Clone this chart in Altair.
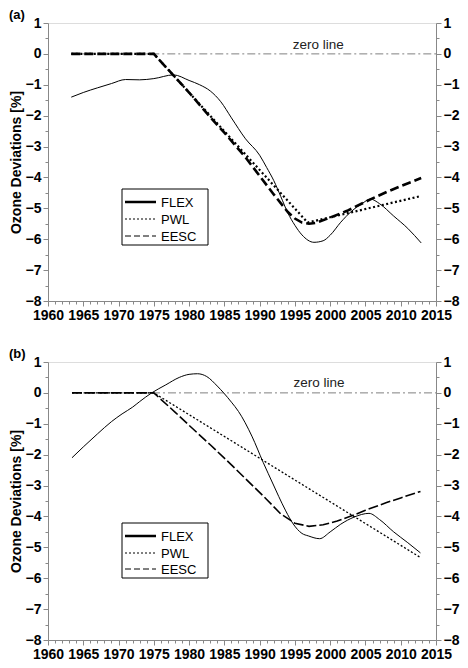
import altair as alt
import pandas as pd

FONT = "Liberation Sans"

series_names = ["FLEX", "PWL", "EESC"]

# ---------------- Panel (a) ----------------
a_flex_years = [1963.3, 1965, 1967, 1969, 1971, 1973, 1975, 1977.8, 1980, 1981.5, 1983,
                1984.5, 1986, 1988, 1990, 1991, 1992, 1993, 1994, 1995, 1996, 1997.7,
                1999, 2000, 2001.5, 2003, 2004.5, 2005.7, 2007, 2009, 2011, 2012.9]
a_flex_vals = [-1.40, -1.25, -1.10, -0.96, -0.83, -0.84, -0.80, -0.68, -0.86, -1.0, -1.2,
               -1.55, -2.07, -2.75, -3.28, -3.68, -4.1, -4.62, -5.15, -5.55, -5.86, -6.1,
               -6.05, -5.87, -5.45, -5.1, -4.85, -4.7, -4.85, -5.25, -5.65, -6.12]
a_pwl_years = [1963.3, 1975, 1996.8, 2012.9]
a_pwl_vals = [0, 0, -5.46, -4.6]
a_eesc_years = [1963.3, 1975, 1978, 1980, 1983, 1985, 1988, 1990, 1992, 1994, 1995, 1996,
                1997, 1998, 2000, 2002.4, 2005.7, 2008, 2010, 2012.9]
a_eesc_vals = [0, 0, -0.75, -1.25, -2.05, -2.55, -3.35, -3.95, -4.55, -5.12, -5.33, -5.46,
               -5.5, -5.47, -5.3, -5.08, -4.71, -4.47, -4.28, -4.02]
a_zero_years = [1963.3, 2015]

# ---------------- Panel (b) ----------------
b_flex_years = [1963.4, 1965, 1967, 1969, 1970.5, 1972, 1973, 1974.7, 1976.7, 1978.6, 1980,
                1981.2, 1982.5, 1984, 1984.9, 1986, 1987, 1988.9, 1990.5, 1991.9, 1992.7,
                1993.7, 1994.75, 1996, 1996.9, 1998.5, 2000, 2001.5, 2003.4, 2005.5, 2007,
                2009, 2011, 2012.8]
b_flex_vals = [-2.10, -1.75, -1.33, -0.93, -0.68, -0.46, -0.28, 0.0, 0.26, 0.50, 0.60,
               0.62, 0.53, 0.22, 0.0, -0.30, -0.60, -1.40, -2.25, -2.95, -3.35,
               -3.82, -4.24, -4.55, -4.63, -4.72, -4.50, -4.25, -4.02, -3.90, -4.10,
               -4.50, -4.85, -5.18]
b_pwl_years = [1963.4, 1975, 2012.8]
b_pwl_vals = [0, 0, -5.33]
b_eesc_years = [1963.4, 1975, 1978, 1980, 1983, 1986, 1989, 1991, 1993, 1995, 1997, 1999,
                2001, 2003.4, 2005, 2008, 2010, 2012.8]
b_eesc_vals = [0, 0, -0.62, -1.05, -1.68, -2.33, -3.0, -3.45, -3.92, -4.22, -4.32, -4.27,
               -4.15, -3.95, -3.80, -3.55, -3.40, -3.19]
b_zero_years = [1963.4, 2015]

zero_label = "zero line"
a_zero_label_pos = (1998.3, 0.3)
b_zero_label_pos = (1998.4, 0.32)

x_ticks = list(range(1960, 2016))
y_ticks = [-8 + 0.5 * i for i in range(19)]

W, H = 388, 278


def df(years, vals):
    return pd.DataFrame({"year": years, "value": vals})


xs = alt.Scale(domain=[1960, 2015], nice=False, zero=False)
ys = alt.Scale(domain=[-8, 1], nice=False, zero=False)

x_axis = alt.Axis(
    values=x_ticks, format="d",
    labelExpr="datum.value % 5 === 0 ? datum.label : ''",
    tickSize={"condition": {"test": "datum.value % 5 === 0", "value": 5}, "value": 3},
    labelFlush=False, labelOverlap=False, grid=False,
    labelFont=FONT, labelFontSize=14, labelFontWeight="bold", labelPadding=2,
    title=None,
)


def y_axis(orient, title):
    kw = dict(
        orient=orient, values=y_ticks, format=".0f",
        labelExpr="datum.value % 1 === 0 ? datum.label : ''",
        tickSize={"condition": {"test": "datum.value % 1 === 0", "value": 5}, "value": 3},
        labelOverlap=False, labelFlush=False, grid=False,
        labelFont=FONT, labelFontSize=14, labelFontWeight="bold", labelPadding=2,
    )
    if title:
        kw.update(title=title, titleFont=FONT, titleFontSize=14, titleFontWeight="bold",
                  titlePadding=2)
    else:
        kw.update(title=None)
    return alt.Axis(**kw)


def panel(tag, flex, pwl, eesc, zero_years, zl_pos, style, leg_rows, leg_box):
    X = alt.X("year:Q", scale=xs, axis=None)
    Y = alt.Y("value:Q", scale=ys, axis=None)

    zero = alt.Chart(df(zero_years, [0] * len(zero_years))).mark_line(
        color="#808080", strokeWidth=1, strokeDash=[8, 3, 2, 3]
    ).encode(x=X, y=Y)

    pwl_l = alt.Chart(df(*pwl)).mark_line(
        color="black", strokeWidth=style["pwl_w"], strokeDash=style["pwl_dash"]
    ).encode(x=X, y=alt.Y("value:Q", scale=ys, axis=y_axis("right", None)))

    eesc_l = alt.Chart(df(*eesc)).mark_line(
        color="black", strokeWidth=style["eesc_w"], strokeDash=style["eesc_dash"]
    ).encode(x=X, y=Y)

    flex_l = alt.Chart(df(*flex)).mark_line(
        color="black", strokeWidth=1, interpolate="monotone"
    ).encode(
        x=alt.X("year:Q", scale=xs, axis=x_axis),
        y=alt.Y("value:Q", scale=ys, axis=y_axis("left", "Ozone Deviations [%]")),
    )

    zl = alt.Chart(pd.DataFrame({"year": [zl_pos[0]], "value": [zl_pos[1]],
                                 "label": [zero_label]})).mark_text(
        font=FONT, fontSize=13.5, color="#222", align="center", baseline="middle"
    ).encode(x=X, y=Y, text="label:N")

    box = alt.Chart(pd.DataFrame({"k": [0]})).mark_rect(
        fill="white", stroke="black", strokeWidth=1
    ).encode(x=alt.value(leg_box[0]), x2=alt.value(leg_box[1]),
             y=alt.value(leg_box[2]), y2=alt.value(leg_box[3]))

    leg_styles = [dict(strokeWidth=2.5), dict(strokeWidth=1, strokeDash=[2, 2]),
                  dict(strokeWidth=1, strokeDash=[6, 3])]
    legend_layers = []
    for name, ry, st in zip(series_names, leg_rows, leg_styles):
        d = pd.DataFrame({"label": [name]})
        legend_layers.append(
            alt.Chart(d).mark_rule(color="black", **st).encode(
                x=alt.value(leg_box[0] + 3), x2=alt.value(leg_box[0] + 34), y=alt.value(ry))
        )
        legend_layers.append(
            alt.Chart(d).mark_text(font=FONT, fontSize=13, align="left", baseline="middle",
                                   color="black").encode(
                x=alt.value(leg_box[0] + 39), y=alt.value(ry + 0.5), text="label:N")
        )

    return alt.layer(zero, pwl_l, eesc_l, flex_l, zl, box, *legend_layers).resolve_axis(
        x="independent", y="independent"
    ).properties(
        width=W, height=H,
        title=alt.TitleParams(tag, anchor="start", frame="bounds", font=FONT, fontSize=13,
                              fontWeight="bold", offset=-6),
    )


pa = panel("(a)", (a_flex_years, a_flex_vals), (a_pwl_years, a_pwl_vals),
           (a_eesc_years, a_eesc_vals), a_zero_years, a_zero_label_pos,
           dict(pwl_w=2.2, pwl_dash=[2, 2.5], eesc_w=2.6, eesc_dash=[9, 4]),
           [179, 196, 213], (74, 160, 166, 222))
pb = panel("(b)", (b_flex_years, b_flex_vals), (b_pwl_years, b_pwl_vals),
           (b_eesc_years, b_eesc_vals), b_zero_years, b_zero_label_pos,
           dict(pwl_w=1.3, pwl_dash=[2, 2], eesc_w=1.6, eesc_dash=[10, 3]),
           [174, 191, 207], (74, 160, 161, 216))

chart = alt.vconcat(pa, pb, spacing=24).properties(padding=0).configure_view(
    stroke="black", strokeWidth=1
).configure_axis(
    domainColor="black", tickColor="black", labelColor="black", titleColor="black",
    domainWidth=1, tickWidth=1
).configure(background="white")

chart.save("out.html", embed_options={"renderer": "svg", "actions": False})
